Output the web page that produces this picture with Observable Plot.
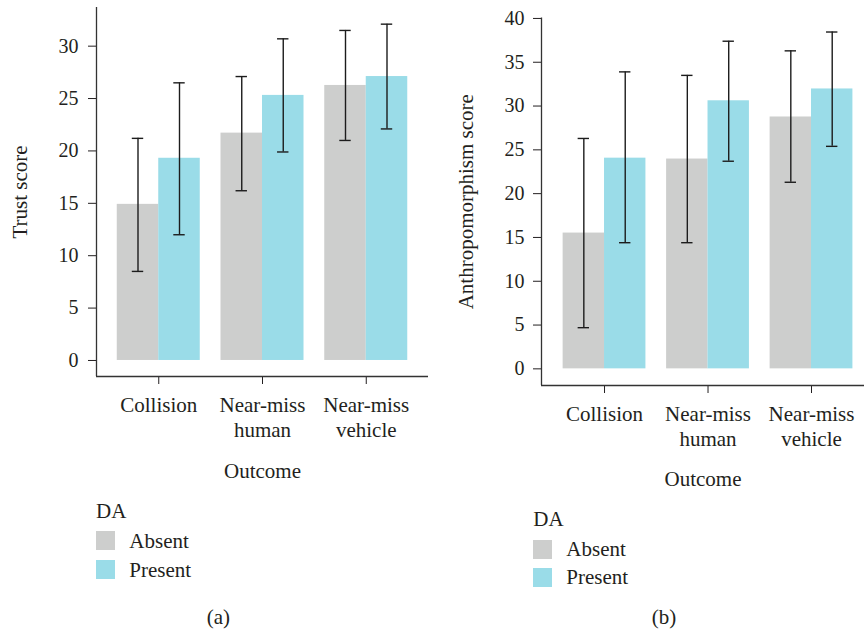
<!DOCTYPE html>
<html>
<head>
<meta charset="utf-8">
<script src="https://cdn.jsdelivr.net/npm/d3@7"></script>
<script src="https://cdn.jsdelivr.net/npm/@observablehq/plot@0.6"></script>
<style>
  html, body { margin: 0; padding: 0; background: #ffffff; }
  #page { position: relative; width: 864px; height: 633px; overflow: hidden;
          font-family: "Liberation Serif", "DejaVu Serif", serif; color: #231f20; }
  .panel { position: absolute; top: 0; }
  .txt { position: absolute; font-size: 21px; line-height: 21px; white-space: nowrap; }
  .sw { position: absolute; width: 19px; height: 19px; }
</style>
</head>
<body>
<div id="page"></div>
<script>
// ---------- data ----------
const outcomes = ["Collision", "Near-miss\nhuman", "Near-miss\nvehicle"];
const groups = ["Absent", "Present"];
const legendTitle = "DA";
const xLabel = "Outcome";

// (a) Trust score
const trustAbsent      = [14.9, 21.7, 26.25];
const trustAbsentLo    = [8.5, 16.2, 21.0];
const trustAbsentHi    = [21.2, 27.1, 31.5];
const trustPresent     = [19.3, 25.3, 27.1];
const trustPresentLo   = [12.0, 19.9, 22.1];
const trustPresentHi   = [26.5, 30.7, 32.1];

// (b) Anthropomorphism score
const anthroAbsent     = [15.5, 23.95, 28.75];
const anthroAbsentLo   = [4.7, 14.4, 21.3];
const anthroAbsentHi   = [26.3, 33.5, 36.3];
const anthroPresent    = [24.05, 30.6, 31.95];
const anthroPresentLo  = [14.4, 23.7, 25.4];
const anthroPresentHi  = [33.9, 37.4, 38.45];

const yTicksA = [0, 5, 10, 15, 20, 25, 30];
const yTicksB = [0, 5, 10, 15, 20, 25, 30, 35, 40];

// ---------- styles ----------
const colors = ["#cdcecd", "#9adce8"];
const ink = "#231f20";
const HALF = 0.4;   // half group width in category units
const CAP = 0.055;  // half cap width

function rowsFor(absV, absLo, absHi, preV, preLo, preHi) {
  const rows = [];
  outcomes.forEach((o, i) => {
    rows.push({i, DA: groups[0], x1: i - HALF, x2: i, cx: i - HALF / 2, v: absV[i], lo: absLo[i], hi: absHi[i]});
    rows.push({i, DA: groups[1], x1: i, x2: i + HALF, cx: i + HALF / 2, v: preV[i], lo: preLo[i], hi: preHi[i]});
  });
  return rows;
}

function panel(rows, cfg) {
  return Plot.plot({
    width: cfg.width,
    height: cfg.height,
    marginLeft: cfg.marginLeft,
    marginRight: cfg.marginRight,
    marginTop: cfg.marginTop,
    marginBottom: cfg.marginBottom,
    style: {fontFamily: "Liberation Serif, serif", fontSize: "20px", color: ink, background: "transparent", overflow: "visible"},
    x: {domain: cfg.xDomain, ticks: outcomes.map((o, i) => i), tickSize: 8, tickFormat: () => "", label: null},
    y: {domain: cfg.yDomain, ticks: cfg.yTicks, tickSize: 8, tickPadding: cfg.tickPadding, label: null},
    color: {domain: groups, range: colors},
    marks: [
      Plot.rect(rows, {x1: "x1", x2: "x2", y1: 0, y2: "v", fill: "DA"}),
      Plot.ruleX(rows, {x: "cx", y1: "lo", y2: "hi", stroke: "#1c1c1c", strokeWidth: 1.4}),
      Plot.ruleY(rows, {y: "lo", x1: d => d.cx - CAP, x2: d => d.cx + CAP, stroke: "#1c1c1c", strokeWidth: 1.4}),
      Plot.ruleY(rows, {y: "hi", x1: d => d.cx - CAP, x2: d => d.cx + CAP, stroke: "#1c1c1c", strokeWidth: 1.4}),
      Plot.ruleX([cfg.xDomain[0]], {stroke: "#333", strokeWidth: 1.3}),
      Plot.ruleY([cfg.yDomain[0]], {stroke: "#333", strokeWidth: 1.3}),
      Plot.text(outcomes.map((o, i) => i), {x: d => d, text: d => outcomes[d], frameAnchor: "bottom",
        lineAnchor: "top", dy: 18, lineHeight: 1.19, fontSize: 21, fill: ink}),
      Plot.text([xLabel], {frameAnchor: "bottom", dy: cfg.xLabelDy, lineAnchor: "middle", fontSize: 21, fill: ink}),
      Plot.text([cfg.yLabel], {frameAnchor: "left", dx: cfg.yLabelDx, rotate: -90, textAnchor: "middle",
        lineAnchor: "middle", fontSize: 21, fill: ink})
    ]
  });
}

const page = document.getElementById("page");

const cfgA = {width: 430, height: 490, marginLeft: 96, marginRight: 2, marginTop: 7, marginBottom: 114,
  xDomain: [-0.6, 2.6], yDomain: [-1.53, 33.69], yTicks: yTicksA, tickPadding: 10,
  xLabelDy: 94.6, yLabel: "Trust score", yLabelDx: -76};
const cfgB = {width: 430, height: 500, marginLeft: 107, marginRight: 0, marginTop: 17.5, marginBottom: 115,
  xDomain: [-0.609, 2.512], yDomain: [-1.9, 40.05], yTicks: yTicksB, tickPadding: 9,
  xLabelDy: 93.3, yLabel: "Anthropomorphism score", yLabelDx: -75};

const pA = document.createElement("div"); pA.className = "panel"; pA.style.left = "0px";
pA.appendChild(panel(rowsFor(trustAbsent, trustAbsentLo, trustAbsentHi, trustPresent, trustPresentLo, trustPresentHi), cfgA));
page.appendChild(pA);

const pB = document.createElement("div"); pB.className = "panel"; pB.style.left = "434px";
pB.appendChild(panel(rowsFor(anthroAbsent, anthroAbsentLo, anthroAbsentHi, anthroPresent, anthroPresentLo, anthroPresentHi), cfgB));
page.appendChild(pB);

// ---------- legends & captions ----------
function addText(str, left, top, center) {
  const d = document.createElement("div");
  d.className = "txt";
  d.textContent = str;
  d.style.top = top + "px";
  if (center) { d.style.left = (left - 100) + "px"; d.style.width = "200px"; d.style.textAlign = "center"; }
  else d.style.left = left + "px";
  page.appendChild(d);
}
function addSwatch(color, left, top) {
  const s = document.createElement("div");
  s.className = "sw"; s.style.background = color; s.style.left = left + "px"; s.style.top = top + "px";
  page.appendChild(s);
}
function legend(x, titleTop, swTops, labelTops, labelX) {
  addText(legendTitle, x, titleTop);
  groups.forEach((g, k) => { addSwatch(colors[k], x, swTops[k]); addText(g, labelX, labelTops[k]); });
}
legend(96, 500.7, [531, 560], [530.7, 559.7], 129.3);
legend(533.3, 509, [540.3, 568.3], [539, 567.4], 566.3);
addText("(a)", 218.3, 607, true);
addText("(b)", 664, 607, true);
</script>
</body>
</html>
